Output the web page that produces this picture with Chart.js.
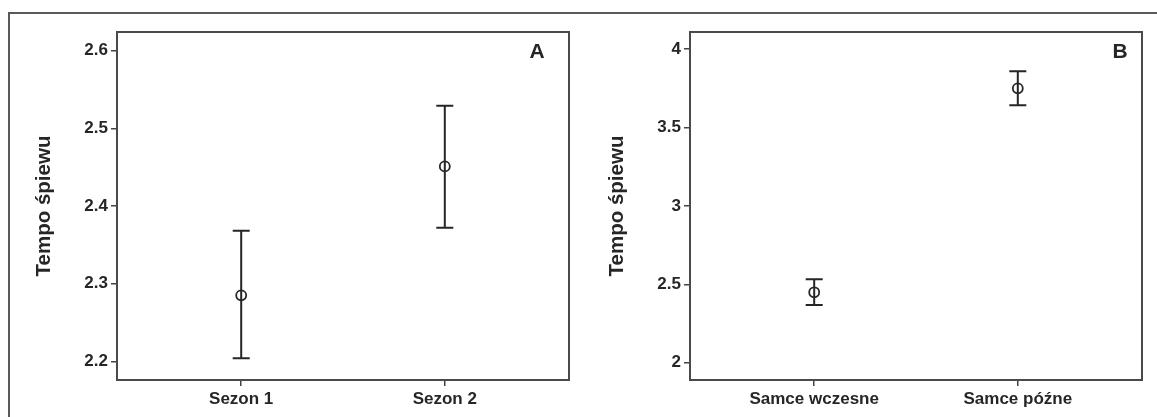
<!DOCTYPE html>
<html>
<head>
<meta charset="utf-8">
<script src="https://cdn.jsdelivr.net/npm/chart.js@4/dist/chart.umd.min.js"></script>
<style>
  body { margin: 0; background: #fff; overflow: hidden; }
  #wrap { position: relative; width: 1157px; height: 417px; overflow: hidden; background: #fff; }
  #frame { position: absolute; left: 8px; top: 12px; width: 1200px; height: 500px; border: 2px solid #5a5a5a; }
  canvas { position: absolute; top: 0; }
  #chartA { left: 0; }
  #chartB { left: 580px; }
</style>
</head>
<body>
<div id="wrap">
  <div id="frame"></div>
  <canvas id="chartA" width="580" height="417"></canvas>
  <canvas id="chartB" width="577" height="417"></canvas>
</div>
<script>
// panel A
var labelsA = ['Sezon 1', 'Sezon 2'];
var meanA = [2.285, 2.451];
var lowA = [2.204, 2.372];
var highA = [2.368, 2.529];
var yTicksA = [2.2, 2.3, 2.4, 2.5, 2.6];

// panel B
var labelsB = ['Samce wczesne', 'Samce późne'];
var meanB = [2.449, 3.749];
var lowB = [2.368, 3.641];
var highB = [2.532, 3.858];
var yTicksB = [2, 2.5, 3, 3.5, 4];

var ink = '#262626';
var fontName = "'Liberation Sans', Arial, sans-serif";

// error bars + box round the plot + panel letter
var panelPlugin = {
    id: 'panel',
    beforeDatasetsDraw: function (chart, args, opts) {
        var ctx = chart.ctx;
        var ys = chart.scales.y;
        var meta = chart.getDatasetMeta(0);
        ctx.save();
        ctx.strokeStyle = ink;
        ctx.lineWidth = 2;
        meta.data.forEach(function (pt, i) {
            var top = ys.getPixelForValue(opts.high[i]);
            var bot = ys.getPixelForValue(opts.low[i]);
            ctx.beginPath();
            ctx.moveTo(pt.x, top);
            ctx.lineTo(pt.x, bot);
            ctx.moveTo(pt.x - 8.5, top);
            ctx.lineTo(pt.x + 8.5, top);
            ctx.moveTo(pt.x - 8.5, bot);
            ctx.lineTo(pt.x + 8.5, bot);
            ctx.stroke();
        });
        ctx.restore();
    },
    afterDraw: function (chart, args, opts) {
        var ctx = chart.ctx;
        var a = chart.chartArea;
        ctx.save();
        ctx.strokeStyle = '#4a4a4a';
        ctx.lineWidth = 2;
        ctx.strokeRect(a.left, a.top, a.right - a.left, a.bottom - a.top);
        ctx.fillStyle = ink;
        ctx.font = 'bold 21px ' + fontName;
        ctx.textAlign = 'center';
        ctx.textBaseline = 'middle';
        ctx.fillText(opts.letter, a.right - opts.letterDx, a.top + 20);
        ctx.restore();
    }
};

function makeChart(id, labels, mean, low, high, yTicks, yMin, yMax, opt) {
    return new Chart(document.getElementById(id), {
        type: 'scatter',
        data: {
            datasets: [{
                data: mean.map(function (v, i) { return { x: i + 1, y: v }; }),
                pointStyle: 'circle',
                pointRadius: 5,
                pointBorderWidth: 1.8,
                borderColor: ink,
                backgroundColor: 'rgba(0,0,0,0)'
            }]
        },
        options: {
            responsive: false,
            animation: false,
            events: [],
            layout: { padding: { top: 32, right: opt.padRight, left: 0, bottom: 0 } },
            plugins: {
                legend: { display: false },
                tooltip: { enabled: false },
                panel: { low: low, high: high, letter: opt.letter, letterDx: opt.letterDx }
            },
            scales: {
                x: {
                    type: 'linear',
                    min: 0.39,
                    max: 2.61,
                    afterBuildTicks: function (s) {
                        s.ticks = labels.map(function (l, i) { return { value: i + 1 }; });
                    },
                    afterFit: function (s) { s.height = 37; },
                    grid: { drawOnChartArea: false, drawTicks: true, tickLength: 6, color: '#444', lineWidth: 1.5 },
                    border: { display: false },
                    ticks: {
                        color: ink,
                        padding: 3,
                        maxRotation: 0,
                        font: { family: fontName, size: 17, weight: 'bold' },
                        callback: function (v) { return labels[v - 1]; }
                    }
                },
                y: {
                    min: yMin,
                    max: yMax,
                    afterBuildTicks: function (s) {
                        s.ticks = yTicks.map(function (v) { return { value: v }; });
                    },
                    afterFit: function (s) { s.width = opt.axisWidth; },
                    grid: { drawOnChartArea: false, drawTicks: true, tickLength: 6, color: '#444', lineWidth: 1.5 },
                    border: { display: false },
                    title: {
                        display: true,
                        text: 'Tempo śpiewu',
                        color: ink,
                        font: { family: fontName, size: 20.5, weight: 'bold', lineHeight: 1.2 },
                        padding: { top: opt.titlePad, bottom: 0 }
                    },
                    ticks: {
                        color: ink,
                        padding: 3,
                        font: { family: fontName, size: 17, weight: 'bold' },
                        callback: function (v) { return String(v); }
                    }
                }
            }
        },
        plugins: [panelPlugin]
    });
}

makeChart('chartA', labelsA, meanA, lowA, highA, yTicksA, 2.176, 2.624,
    { padRight: 11, axisWidth: 117, titlePad: 32, letter: 'A', letterDx: 32 });
makeChart('chartB', labelsB, meanB, lowB, highB, yTicksB, 1.89, 4.108,
    { padRight: 15, axisWidth: 110, titlePad: 25, letter: 'B', letterDx: 22 });
</script>
</body>
</html>
